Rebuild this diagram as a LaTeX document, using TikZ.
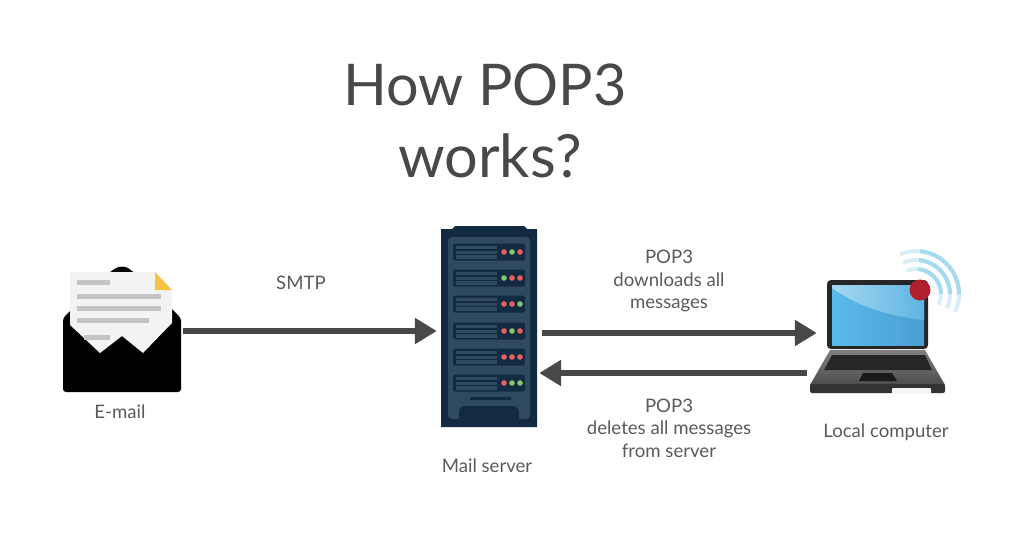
\documentclass[tikz,border=0pt]{standalone}
\usepackage{fontspec}
\setmainfont{Lato}
\usetikzlibrary{positioning, arrows.meta}
\definecolor{inkgrey}{HTML}{484848}
\definecolor{labelgrey}{HTML}{5A5A5A}
\definecolor{rackdark}{HTML}{122B43}
\definecolor{rackpanel}{HTML}{2F495F}
\definecolor{rackred}{HTML}{E8605F}
\definecolor{rackgreen}{HTML}{86C56F}
\definecolor{paperline}{HTML}{C4C4C4}
\definecolor{paperfill}{HTML}{F3F3F3}
\definecolor{foldyellow}{HTML}{F6C343}
\definecolor{screenlow}{HTML}{5ABAEA}
\definecolor{screenlowb}{HTML}{4A9FD4}
\definecolor{screenhigh}{HTML}{A4D8F0}
\definecolor{screenhighb}{HTML}{5FB4E2}
\definecolor{wavelight}{HTML}{A6DAEE}
\definecolor{dotred}{HTML}{B0202E}
\tikzset{
    label text/.style={text=labelgrey, font=\fontsize{18.6}{22.5}\selectfont, align=center},
    title text/.style={text=inkgrey, font=\fontsize{#1}{70}\selectfont},
    flow/.style={draw=inkgrey, line width=6.5pt, -{Triangle[length=22pt,width=25pt]}},
    icon box/.style={inner sep=0pt, minimum height=20pt},
    wave/.style={line width=4pt, color=wavelight},
}
\begin{document}
\begin{tikzpicture}[x=1pt,y=-1pt]

    \useasboundingbox (0,0) rectangle (1024,544);

    % titolo
    \node[title text=57.5] (titletop) at (485,85) {How POP3};
    \node[title text=59.5] (titlebottom) at (490,156) {works?};

    % busta
    \fill[black, rounded corners=3pt] (63,392) -- (63,318) -- (110,272) [rounded corners=8pt] -- (122,264) -- (134,272) [rounded corners=3pt] -- (181,318) -- (181,392) -- cycle;
    \fill[paperfill] (70,272) -- (155,272) -- (172,290) -- (172,323) -- (143,353) -- (122,336) -- (100,353) -- (70,325) -- cycle;
    \fill[foldyellow] (155,272) -- (172,290) -- (155,290) -- cycle;
    \foreach \ya/\xa/\xb in {282/77/110, 296/77/161, 308/77/161, 320/77/149, 337/84/110}
        \fill[paperline] (\xa,\ya-2.5) rectangle (\xb,\ya+2.5);
    \node[icon box, minimum width=120pt] (email) at (123,331) {};
    \node[label text] (emaillabel) at (120,412) {E-mail};

    % server
    \fill[rackdark] (441,427) -- (441,229) -- (452,229) -- (455,226) -- (524,226) -- (527,229) -- (537,229) -- (537,427) -- cycle;
    \fill[rackpanel, rounded corners=4pt] (448,419) rectangle (530,237);
    \fill[rackdark] (459,419) [rounded corners=5pt] -- (459,406) -- (519,406) [sharp corners] -- (519,419) -- cycle;
    \fill[rackdark] (470,396.5) rectangle (511,399.5);
    \foreach \ya/\la/\lb/\lc in {252/rackred/rackgreen/rackred, 278/rackgreen/rackred/rackred, 304/rackred/rackred/rackgreen,
                                 331/rackred/rackgreen/rackred, 357/rackred/rackred/rackred, 383/rackred/rackgreen/rackgreen} {
        \fill[rackdark, rounded corners=2pt] (453,\ya-8.5) rectangle (525,\ya+8.5);
        \fill[rackpanel] (456,\ya-6.5) rectangle (497,\ya-3);
        \fill[rackpanel] (456,\ya-1.5) rectangle (497,\ya+1.5);
        \fill[rackpanel] (456,\ya+3) rectangle (497,\ya+6.5);
        \fill[\la] (504,\ya) circle (2.8pt);
        \fill[\lb] (512,\ya) circle (2.8pt);
        \fill[\lc] (520,\ya) circle (2.8pt);
    }
    \node[icon box, minimum width=104pt] (server) at (489,331) {};
    \node[label text] (serverlabel) at (487,466) {Mail server};

    % portatile
    \fill[black!85, rounded corners=4pt] (827,349) -- (827,280) -- (928,280) -- (928,349) -- cycle;
    \shade[left color=screenlow, right color=screenlowb] (832,285) rectangle (924,345);
    \shade[left color=screenhigh, right color=screenhighb] (832,285) -- (924,285) -- (924,320) .. controls (890,316) and (860,308) .. (832,288) -- cycle;
    \shade[top color=black!50, bottom color=black!70] (830,350) -- (925,350) -- (945,385) -- (810,385) -- cycle;
    \fill[black!85] (832,355) -- (925,355) -- (932,370) -- (824,370) -- cycle;
    \fill[black!90] (863,373) -- (892,373) -- (897,381) -- (859,381) -- cycle;
    \fill[black!80, rounded corners=2pt] (810,384) -- (945,384) -- (945,393) -- (810,393) -- cycle;
    \fill[black!4, rounded corners=1pt] (892,388) rectangle (931,394);
    \foreach \rad in {25, 34, 43} {
        \draw[wave, color=wavelight!45] (916,294) ++(-25:\rad pt) arc[start angle=-25, end angle=112, radius=\rad pt];
        \draw[wave] (916,294) ++(0:\rad pt) arc[start angle=0, end angle=85, radius=\rad pt];
    }
    \fill[dotred] (920,290) circle (10.5pt);
    \node[icon box, minimum width=100pt] (laptop) at (867,353) {};
    \node[label text] (laptoplabel) at (886,432) {Local computer};

    % etichette
    \node[label text] (smtplabel) at (301,283) {SMTP};
    \node[label text] (downlabel) at (669,281) {POP3\\downloads all\\messages};
    \node[label text] (dellabel) at (669,428) {POP3\\deletes all messages\\from server};

    % frecce
    \draw[flow] (email) -- (server);
    \draw[flow] ([xshift=1pt,yshift=-2pt]server.east) -- ([yshift=20pt]laptop.west);
    \draw[flow] ([xshift=-10pt,yshift=-20pt]laptop.west) -- ([xshift=-2pt,yshift=-42pt]server.east);

    \end{tikzpicture}
\end{document}
